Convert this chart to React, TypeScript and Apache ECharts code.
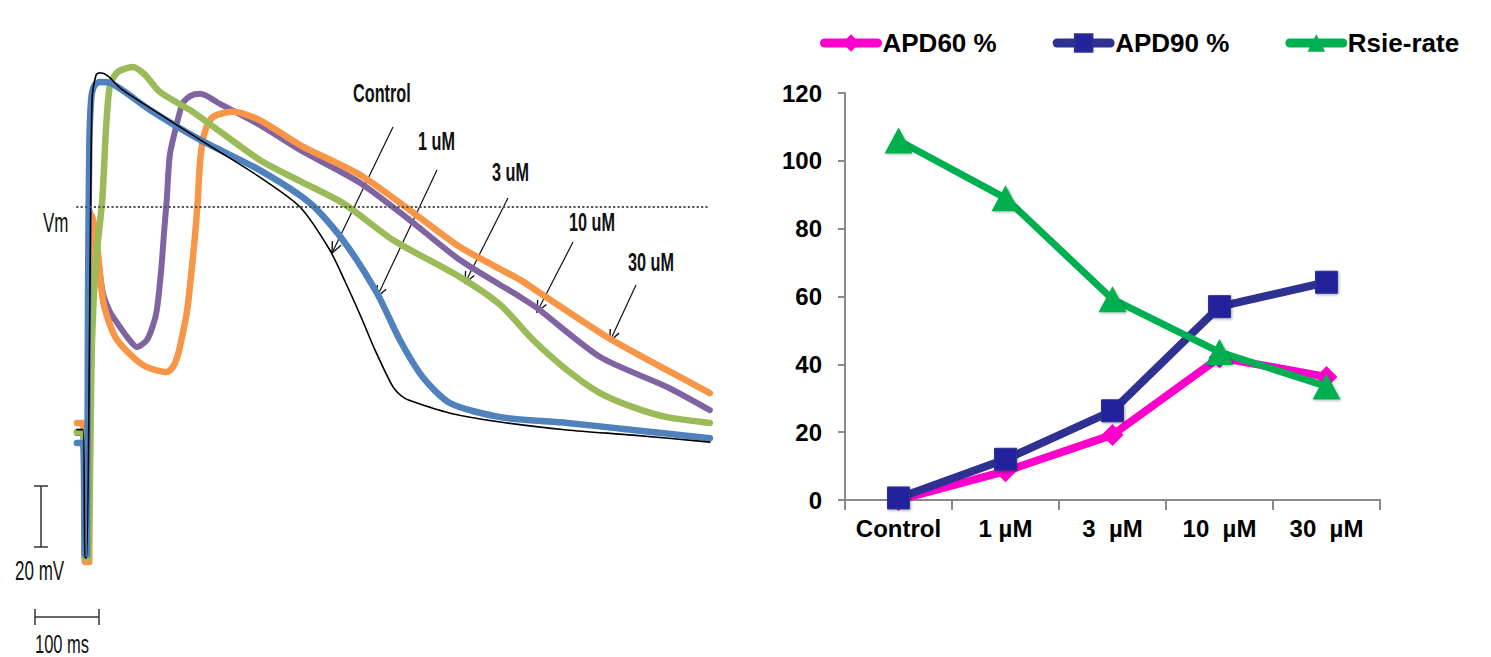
import React, { useEffect, useRef } from "react";
import * as echarts from "echarts";

// ---------- Left panel: action potential traces (time in ms, potential in mV) ----------
const traceNames = ["Control", "1 uM", "3 uM", "10 uM", "30 uM"];

const controlTrace: [number, number][] = [
  [-18, -73], [-8, -73], [-5, -115], [-2, -115], [3, -30.5], [6.5, 35], [13, 43.3], [19, 44],
  [32, 43], [52, 39], [100, 32.5], [181, 22], [277, 9.8], [342, 0], [390, -14.1], [415, -24.6],
  [439, -35.4], [463, -46.9], [492, -59], [510, -62.6], [531, -64.3], [584, -67.6], [665, -70.5],
  [773, -73.1], [879, -74.8], [1003, -77.1],
];

const uM1Trace: [number, number][] = [
  [-18, -77.4], [-8, -77.4], [-5, -114], [-2, -114], [0, -30.5], [2, 18.7], [5, 35.1], [10, 39.7],
  [19, 41], [35.5, 40.7], [100, 31.8], [181, 22], [277, 12.1], [358, 1.3], [411, -10.8],
  [466, -28.2], [503, -43.6], [540, -55.8], [584, -64.3], [665, -68.9], [773, -70.8],
  [879, -73.1], [1003, -75.8],
];

const uM3Trace: [number, number][] = [
  [-18, -73.8], [-8, -73.8], [-5, -115], [0, -115], [6.5, -43.6], [13, -17.4], [23, 2.3],
  [29, 25.3], [35.5, 40], [48, 44.3], [72.6, 45.9], [92, 43.3], [116, 37.7], [169, 31.2],
  [277, 15.4], [342, 8.5], [411, 1.3], [492, -10.8], [600, -23], [665, -32.1], [718, -43.6],
  [773, -53.5], [826, -61], [879, -65.6], [934, -68.9], [1003, -70.8],
];

const uM10Trace: [number, number][] = [
  [-18, -74.1], [-8, -74.1], [-5, -115], [-2, -115], [2, -17.4], [3, -1], [8, -5.9], [14.5, -14.1],
  [24, -28.2], [35.5, -34.4], [47, -38], [63, -42.6], [79, -45.9], [95, -43.6], [105, -38.7],
  [111, -33.8], [118, -20.7], [123, -7.5], [127, 2.3], [132, 17.1], [144, 27.9], [153, 34.1],
  [165, 36.4], [181, 37.1], [213, 33.8], [277, 26.9], [342, 18.7], [439, 7.9], [519, -4.3],
  [600, -17.4], [697, -29.5], [724, -33.1], [826, -49.2], [934, -59], [1003, -66.6],
];

const uM30Trace: [number, number][] = [
  [-18, -70.8], [-8, -70.8], [-5, -116.4], [2, -116.4], [3, -30.5], [6.5, -2.6], [10, -5.9],
  [14.5, -11.8], [24, -30.5], [35.5, -38.7], [47, -43.6], [72.6, -49.2], [95, -52.5],
  [127, -54.1], [137, -52.5], [145, -48.5], [153, -41.3], [160, -33.8], [165, -24.9],
  [173, -8.5], [177, 2.3], [181, 15.4], [187, 23.6], [197, 28.5], [208, 30.2], [234, 31.2],
  [277, 28.5], [342, 20.3], [439, 10.5], [519, -1], [600, -13.1], [697, -23.9], [729, -28.2],
  [837, -42.6], [934, -53.5], [1003, -61],
];

// ---------- Right panel: dose response ----------
const doseCategories = ["Control", "1 µM", "3  µM", "10  µM", "30  µM"];
const apd60 = [0, 8.5, 19.2, 42, 36.3];
const apd90 = [0.6, 12, 26.3, 57, 64.2];
const rsieRate = [106, 89, 59.2, 43.6, 33.5];
const yAxisRange = { min: 0, max: 120, interval: 20 };

const FONT = '"Liberation Sans", Arial, Helvetica, sans-serif';

function arrow(x1: number, y1: number, x2: number, y2: number) {
  const dx = x2 - x1;
  const dy = y2 - y1;
  const len = Math.sqrt(dx * dx + dy * dy);
  const ux = dx / len;
  const uy = dy / len;
  const L = 12;
  const a = (24 * Math.PI) / 180;
  const rot = (ang: number) => [ux * Math.cos(ang) - uy * Math.sin(ang), ux * Math.sin(ang) + uy * Math.cos(ang)];
  const r1 = rot(a);
  const r2 = rot(-a);
  return {
    type: "group",
    children: [
      { type: "line", shape: { x1, y1, x2, y2 }, style: { stroke: "#111", lineWidth: 1.2 } },
      {
        type: "polyline",
        shape: { points: [[x2 - L * r1[0], y2 - L * r1[1]], [x2, y2], [x2 - L * r2[0], y2 - L * r2[1]]] },
        style: { stroke: "#111", lineWidth: 1.4, fill: "none" },
      },
    ],
  };
}

function label(text: string, x: number, y: number, bold: boolean, size: number, sx: number) {
  return {
    type: "text",
    x,
    y,
    scaleX: sx,
    style: {
      text,
      fill: "#111",
      font: `${bold ? "bold " : ""}${size}px ${FONT}`,
      textAlign: "left",
      textVerticalAlign: "middle",
    },
  };
}

export default function App() {
  const ref = useRef<HTMLDivElement>(null);

  useEffect(() => {
    document.body.style.margin = "0";
    if (!ref.current) return;
    const chart = echarts.init(ref.current, undefined, { renderer: "svg" });

    const traceStyle = (data: [number, number][], name: string, color: string, width: number, extra: any = {}) => ({
      type: "line",
      name,
      xAxisIndex: 0,
      yAxisIndex: 0,
      data,
      showSymbol: false,
      symbol: "none",
      smooth: 0.25,
      lineStyle: { color, width, cap: "round", join: "round" },
      itemStyle: { color },
      silent: true,
      ...extra,
    });

    const option: any = {
      animation: false,
      backgroundColor: "#ffffff",
      textStyle: { fontFamily: FONT },
      legend: {
        data: ["APD60 %", "APD90 %", "Rsie-rate"],
        left: 815,
        top: 25,
        width: 720,
        itemWidth: 53,
        itemHeight: 22,
        itemGap: 56,
        textStyle: { fontSize: 26, fontWeight: "bold", color: "#000", fontFamily: FONT },
        lineStyle: { width: 9, cap: "round" },
      },
      grid: [
        { left: 26, top: 54.5, width: 688.2, height: 549 },
        { left: 845, top: 93, width: 535, height: 407 },
      ],
      xAxis: [
        { type: "value", gridIndex: 0, min: -100, max: 1010, show: false },
        {
          type: "category",
          gridIndex: 1,
          data: doseCategories,
          boundaryGap: true,
          axisLine: { show: true, lineStyle: { color: "#8a8a8a", width: 2 } },
          axisTick: { show: true, length: 10, interval: 0, lineStyle: { color: "#8a8a8a", width: 2 } },
          axisLabel: { margin: 16, fontSize: 24, fontWeight: "bold", color: "#000", fontFamily: FONT, interval: 0 },
        },
      ],
      yAxis: [
        { type: "value", gridIndex: 0, min: -130, max: 50, show: false },
        {
          type: "value",
          gridIndex: 1,
          min: yAxisRange.min,
          max: yAxisRange.max,
          interval: yAxisRange.interval,
          axisLine: { show: true, lineStyle: { color: "#8a8a8a", width: 2 } },
          axisTick: { show: true, length: 7, lineStyle: { color: "#8a8a8a", width: 2 } },
          splitLine: { show: false },
          axisLabel: { margin: 23, fontSize: 24, fontWeight: "bold", color: "#000", fontFamily: FONT },
        },
      ],
      series: [
        traceStyle(uM10Trace, traceNames[3], "#8064A2", 6, {
          markLine: {
            silent: true,
            symbol: "none",
            label: { show: false },
            lineStyle: { type: "dotted", color: "#555", width: 2.2 },
            data: [[{ coord: [-19, 0] }, { coord: [1003, 0] }]],
          },
        }),
        traceStyle(uM30Trace, traceNames[4], "#F79646", 6.5),
        traceStyle(uM3Trace, traceNames[2], "#9BBB59", 6.5),
        traceStyle(uM1Trace, traceNames[1], "#4F81BD", 6.5),
        traceStyle(controlTrace, traceNames[0], "#000000", 1.6),
        {
          type: "line",
          name: "APD60 %",
          xAxisIndex: 1,
          yAxisIndex: 1,
          data: apd60,
          symbol: "diamond",
          symbolSize: 22,
          lineStyle: { color: "#FF00CC", width: 8, cap: "round" },
          itemStyle: { color: "#FF00CC" },
          z: 3,
        },
        {
          type: "line",
          name: "APD90 %",
          xAxisIndex: 1,
          yAxisIndex: 1,
          data: apd90,
          symbol: "rect",
          symbolSize: 22,
          lineStyle: { color: "#2E3192", width: 8, cap: "round" },
          itemStyle: { color: "#23239C", borderColor: "#2E3192", borderWidth: 1, shadowBlur: 3, shadowColor: "rgba(0,0,0,0.35)", shadowOffsetX: 1, shadowOffsetY: 1 },
          z: 4,
        },
        {
          type: "line",
          name: "Rsie-rate",
          xAxisIndex: 1,
          yAxisIndex: 1,
          data: rsieRate,
          symbol: "triangle",
          symbolSize: [28, 26],
          lineStyle: { color: "#00B050", width: 7, cap: "round" },
          itemStyle: { color: "#00B050", shadowBlur: 3, shadowColor: "rgba(0,0,0,0.3)", shadowOffsetX: 1, shadowOffsetY: 1 },
          z: 5,
        },
      ],
      graphic: [
        label("Vm", 43, 223, false, 27, 0.63),
        label("Control", 353, 93, true, 25, 0.65),
        label("1 uM", 418, 141, true, 25, 0.65),
        label("3 uM", 492, 172, true, 25, 0.65),
        label("10 uM", 569, 222, true, 25, 0.65),
        label("30 uM", 628, 262, true, 25, 0.65),
        arrow(393, 127, 332, 253),
        arrow(437, 170, 377, 297),
        arrow(508, 198, 465, 283),
        arrow(573, 242, 537, 312),
        arrow(636, 285, 610, 341),
        // scale bars
        { type: "line", shape: { x1: 41, y1: 486, x2: 41, y2: 547 }, style: { stroke: "#333", lineWidth: 1.5 } },
        { type: "line", shape: { x1: 34, y1: 486, x2: 48, y2: 486 }, style: { stroke: "#333", lineWidth: 1.5 } },
        { type: "line", shape: { x1: 34, y1: 547, x2: 48, y2: 547 }, style: { stroke: "#333", lineWidth: 1.5 } },
        label("20 mV", 15, 571, false, 27, 0.63),
        { type: "line", shape: { x1: 35, y1: 617, x2: 99, y2: 617 }, style: { stroke: "#333", lineWidth: 1.5 } },
        { type: "line", shape: { x1: 35, y1: 609, x2: 35, y2: 625 }, style: { stroke: "#333", lineWidth: 1.5 } },
        { type: "line", shape: { x1: 99, y1: 609, x2: 99, y2: 625 }, style: { stroke: "#333", lineWidth: 1.5 } },
        label("100 ms", 35, 644, false, 25, 0.66),
      ],
    };

    chart.setOption(option);
    return () => chart.dispose();
  }, []);

  return <div ref={ref} style={{ width: 1491, height: 657 }} />;
}
